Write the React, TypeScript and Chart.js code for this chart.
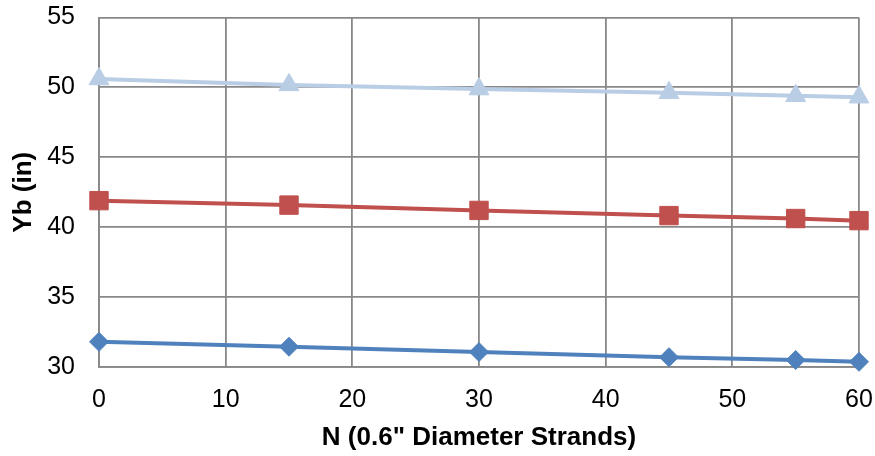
import React, { useEffect, useRef } from "react";
import { Chart, registerables } from "chart.js";

Chart.register(...registerables);

// Number of 0.6" strands
const strands = [0, 15, 30, 45, 55, 60];

// Yb (in) for each case
const ybLow = [31.8, 31.45, 31.07, 30.7, 30.5, 30.37];
const ybMid = [41.9, 41.58, 41.2, 40.83, 40.62, 40.47];
const ybHigh = [50.6, 50.18, 49.88, 49.61, 49.4, 49.3];

const xTicks = { min: 0, max: 60, step: 10 };
const yTicks = { min: 30, max: 55, step: 5 };

const FONT = "'Liberation Sans', Arial, sans-serif";
const GRID = "#888888";

const toPoints = (ys: number[]) => strands.map((x, i) => ({ x, y: ys[i] }));

export default function App() {
  const canvasRef = useRef<HTMLCanvasElement | null>(null);

  useEffect(() => {
    if (!canvasRef.current) return;
    const chart = new Chart(canvasRef.current, {
      type: "line",
      data: {
        datasets: [
          {
            label: "Low",
            data: toPoints(ybLow),
            borderColor: "#4F81BD",
            backgroundColor: "#4F81BD",
            borderWidth: 4,
            pointStyle: "rectRot",
            pointRadius: 9.5,
            pointBorderWidth: 1,
            clip: false,
          },
          {
            label: "Mid",
            data: toPoints(ybMid),
            borderColor: "#C0504D",
            backgroundColor: "#C0504D",
            borderWidth: 4,
            pointStyle: "rect",
            pointRadius: 13,
            pointBorderWidth: 1,
            clip: false,
          },
          {
            label: "High",
            data: toPoints(ybHigh),
            borderColor: "#B9CDE5",
            backgroundColor: "#B9CDE5",
            borderWidth: 4,
            pointStyle: "triangle",
            pointRadius: 11.5,
            pointBorderWidth: 1,
            clip: false,
          },
        ],
      },
      options: {
        animation: false,
        responsive: false,
        maintainAspectRatio: false,
        layout: { padding: { left: 0, right: 16, top: 17.5, bottom: 0 } },
        plugins: { legend: { display: false }, tooltip: { enabled: false } },
        elements: { line: { tension: 0 } },
        scales: {
          x: {
            type: "linear",
            min: xTicks.min,
            max: xTicks.max,
            ticks: {
              stepSize: xTicks.step,
              color: "#000",
              font: { family: FONT, size: 25 },
              padding: 18,
              maxRotation: 0,
            },
            grid: { color: GRID, lineWidth: 1.8, drawTicks: false },
            border: { color: GRID, width: 1.8 },
            title: {
              display: true,
              text: 'N (0.6" Diameter Strands)',
              color: "#000",
              font: { family: FONT, size: 26, weight: "bold", lineHeight: 1.2 },
              padding: { top: 0, bottom: 3 },
            },
            afterFit: (scale: any) => {
              scale.height = 456 - 367;
              scale.paddingLeft = 0;
              scale.paddingRight = 0;
            },
          },
          y: {
            min: yTicks.min,
            max: yTicks.max,
            ticks: {
              stepSize: yTicks.step,
              color: "#000",
              font: { family: FONT, size: 25 },
              padding: 24,
            },
            grid: { color: GRID, lineWidth: 1.8, drawTicks: false },
            border: { color: GRID, width: 1.8 },
            title: {
              display: true,
              text: "Yb (in)",
              color: "#000",
              font: { family: FONT, size: 26, weight: "bold", lineHeight: 1.2 },
              padding: { top: 8, bottom: 0 },
            },
            afterFit: (scale: any) => {
              scale.width = 99;
              scale.paddingTop = 0;
              scale.paddingBottom = 0;
            },
          },
        },
      },
    });
    return () => chart.destroy();
  }, []);

  return (
    <div style={{ position: "fixed", left: 0, top: 0, width: 875, height: 456, background: "#fff" }}>
      <canvas ref={canvasRef} width={875} height={456} />
    </div>
  );
}
